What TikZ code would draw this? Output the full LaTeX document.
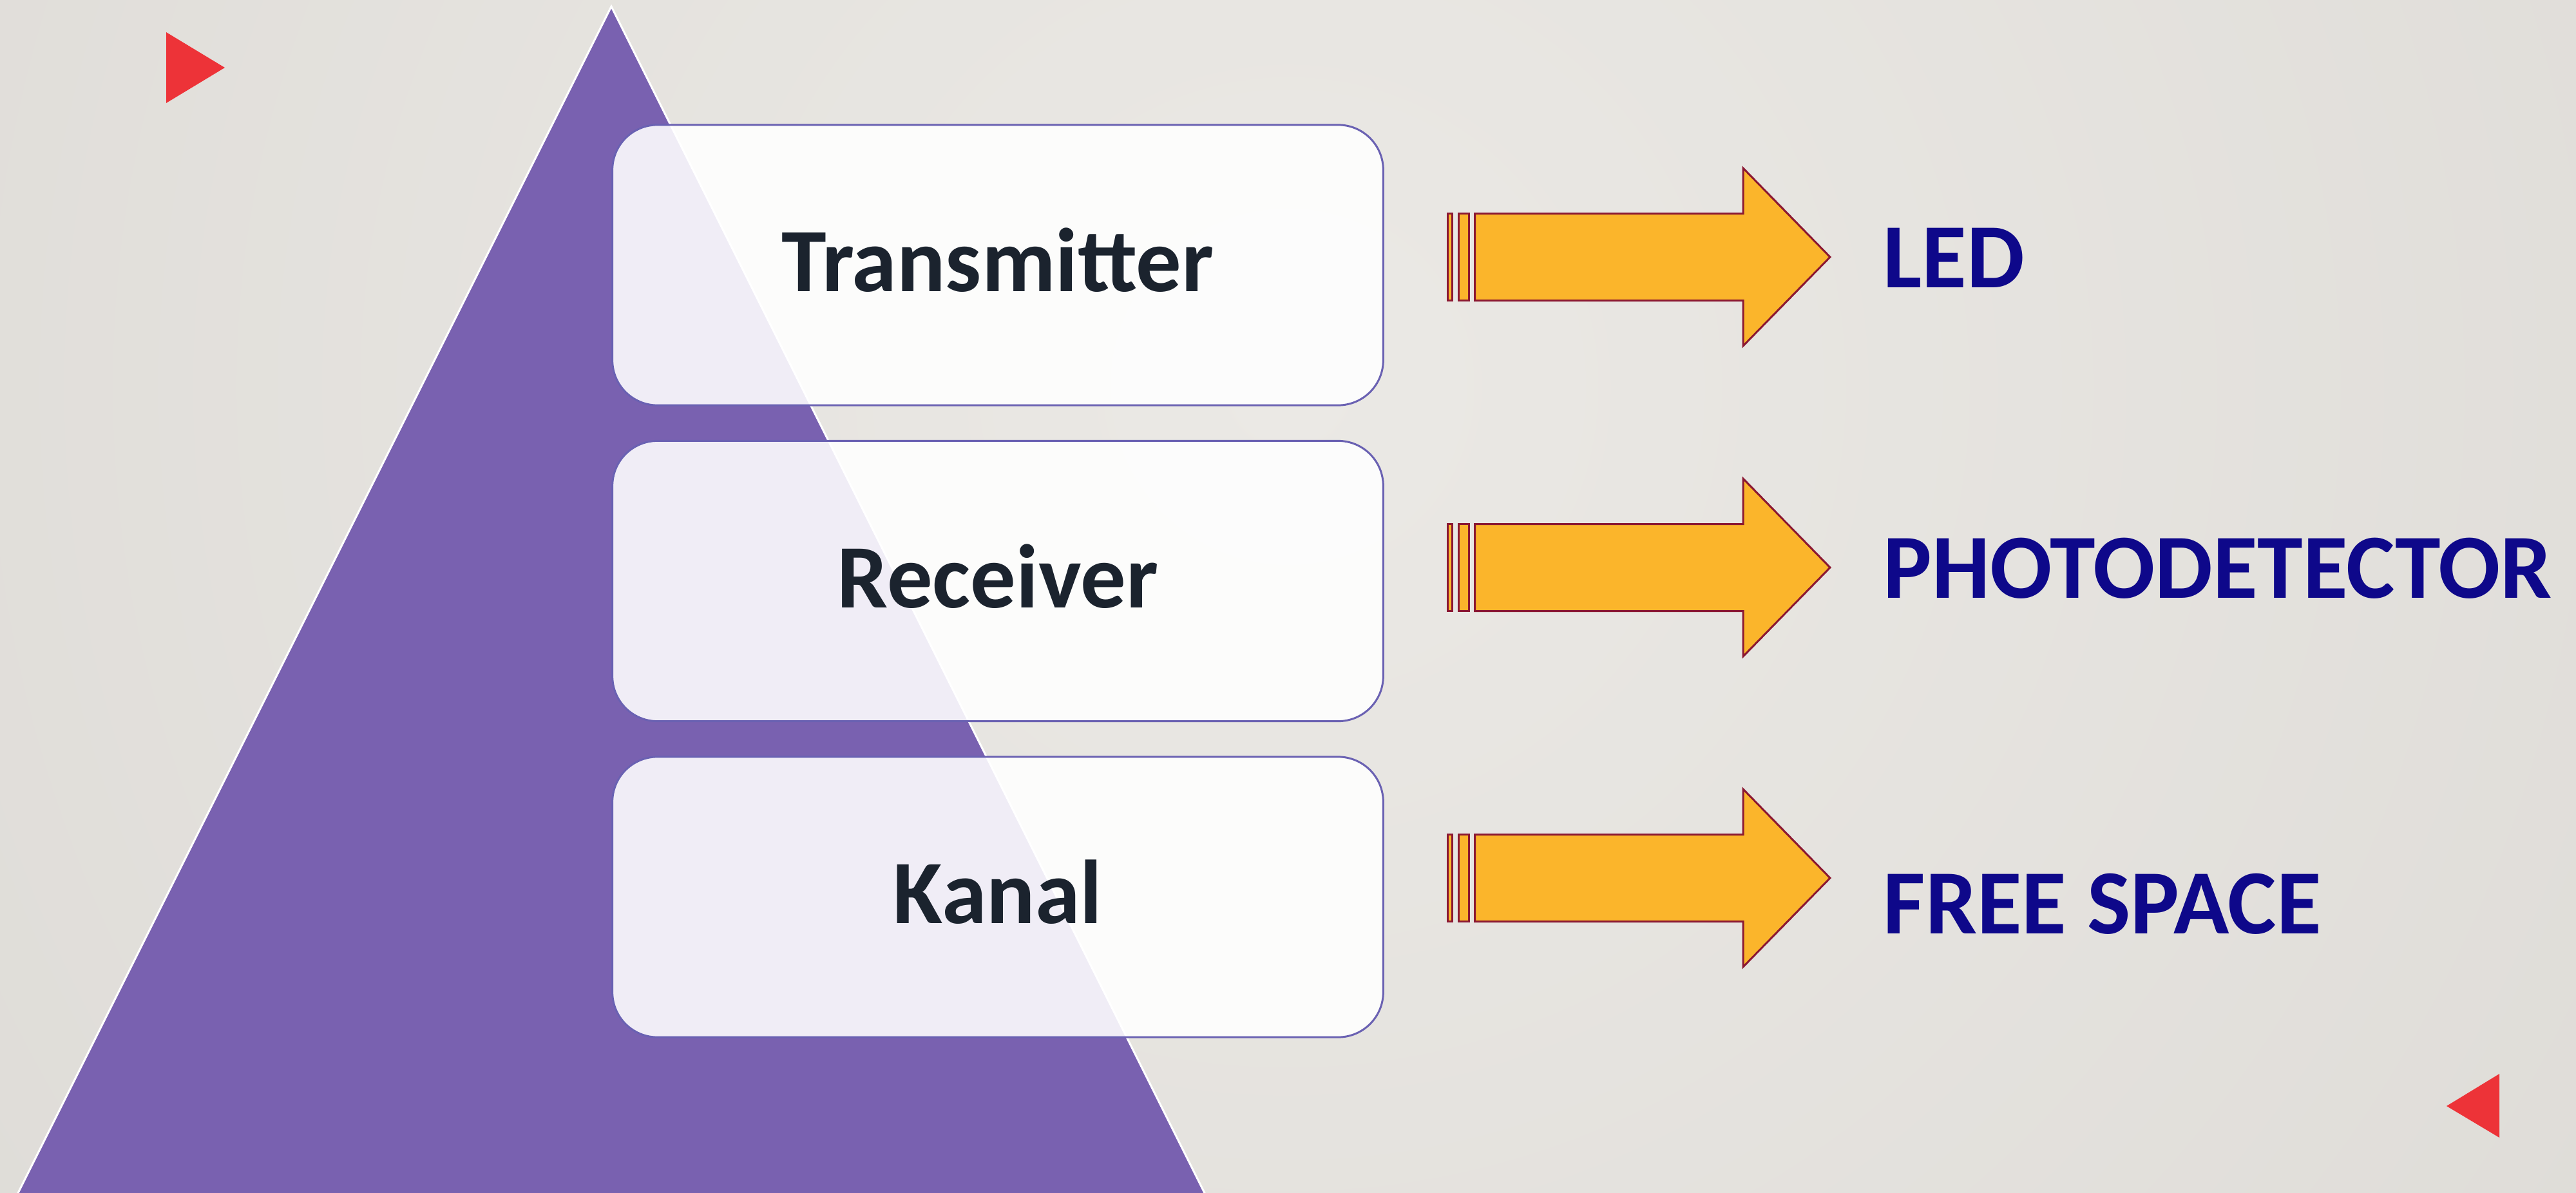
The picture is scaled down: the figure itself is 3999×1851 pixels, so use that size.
\documentclass[tikz,border=0pt]{standalone}
\usepackage[rgb]{xcolor}
\usepackage{fontspec}
\setmainfont{Carlito}
\usepackage{tikz}

\definecolor{bglight}{RGB}{235,233,229}
\definecolor{bgdark}{RGB}{211,208,203}
\definecolor{pyramid}{RGB}{121,97,176}
\definecolor{boxline}{RGB}{106,97,178}
\definecolor{boxtext}{RGB}{27,35,46}
\definecolor{labelblue}{RGB}{14,8,138}
\definecolor{arrowfill}{RGB}{251,181,43}
\definecolor{arrowline}{RGB}{139,24,50}
\definecolor{cornerred}{RGB}{237,51,56}

\begin{document}
\begin{tikzpicture}[x=0.01cm, y=-0.01cm,
    stagebox/.style={draw=boxline, line width=0.85pt, fill=white,
        fill opacity=0.89, text opacity=1, rounded corners=0.7cm,
        minimum width=11.96cm, minimum height=4.35cm, inner sep=0pt,
        text height=23.5pt, text depth=0pt,
        text=boxtext, font=\fontsize{40}{48}\selectfont\bfseries},
    devlabel/.style={anchor=base west, inner sep=0pt, text=labelblue,
        font=\fontsize{40.5}{48}\selectfont\bfseries},
    blockarrow/.style={fill=arrowfill, draw=arrowline, line width=0.85pt,
        line join=miter}]

% Background: a soft grey gradient, lightest near the top middle.
\useasboundingbox (0,0) rectangle (3999,1851);
\begin{scope}
    \clip (0,0) rectangle (3999,1851);
    \fill[inner color=bglight, outer color=bgdark] (2000,600) circle (48cm);
\end{scope}

% The purple pyramid behind the boxes, with a thin white edge.
\filldraw[fill=pyramid, draw=white, line width=0.85pt, line join=miter]
    (949,10) -- (1879,1870) -- (19,1870) -- cycle;

% Small red marks in two corners of the slide.
\fill[cornerred] (258,50) -- (349,105) -- (258,160) -- cycle;
\fill[cornerred] (3880,1667) -- (3798,1717) -- (3880,1766) -- cycle;

% The three half transparent boxes on top of the pyramid.
\foreach \name/\y/\txt in {transmitter/411.5/Transmitter,
        receiver/902/Receiver, kanal/1392.5/Kanal}
    \node[stagebox] (\name) at (1549,\y) {\txt};

% Block arrows with two thin bars at the tail, one per box.
\foreach \c in {399,881,1363} {
    \filldraw[blockarrow] (2247,\c-67.5) rectangle (2254,\c+67.5);
    \filldraw[blockarrow] (2264,\c-67.5) rectangle (2280,\c+67.5);
    \filldraw[blockarrow] (2289.5,\c-67.5) -- (2706,\c-67.5) -- (2706,\c-138)
        -- (2841,\c) -- (2706,\c+138) -- (2706,\c+67.5) -- (2289.5,\c+67.5) -- cycle;
}

% What each part of the link is made of.
\foreach \name/\y/\txt in {led/446/LED, photodet/928/PHOTODETECTOR,
        freespace/1449/FREE SPACE}
    \node[devlabel] (\name) at (2923,\y) {\txt};
\end{tikzpicture}
\end{document}
